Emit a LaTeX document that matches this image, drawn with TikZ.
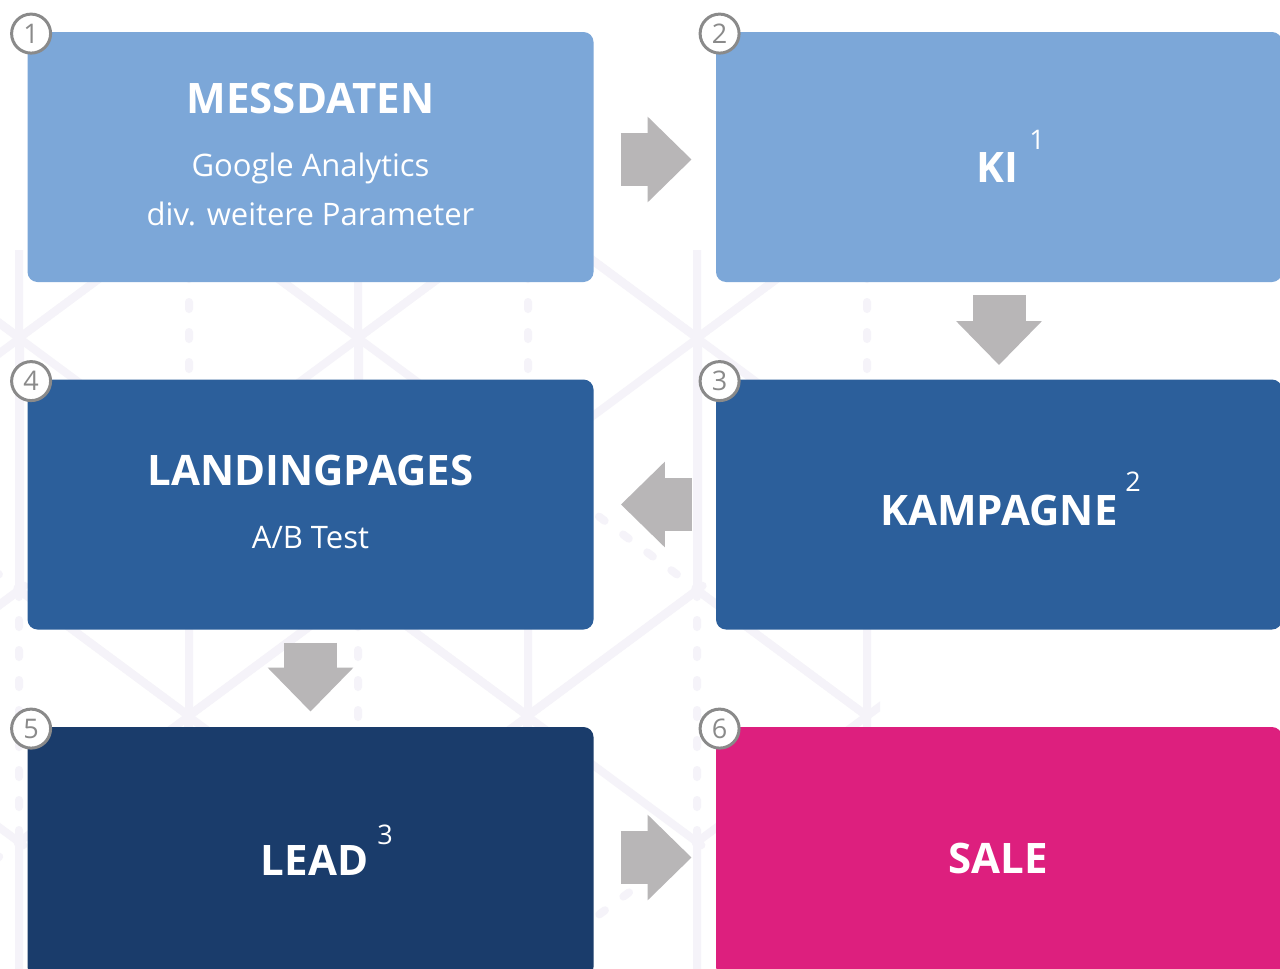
\documentclass[tikz,border=0pt]{standalone}
\usepackage{fontspec}
\setmainfont{Open Sans}
\usetikzlibrary{arrows.meta,positioning}

\definecolor{lightblue}{HTML}{7CA7D8}
\definecolor{midblue}{HTML}{2C5F9B}
\definecolor{darkblue}{HTML}{1A3C6B}
\definecolor{salepink}{HTML}{DD1F7E}
\definecolor{arrowgray}{HTML}{B8B6B7}
\definecolor{ringgray}{HTML}{8A8A8A}
\definecolor{gridline}{HTML}{F5F3F9}

\begin{document}
\begin{tikzpicture}[x=0.5pt,y=-0.5pt,
    stepbox/.style ={rectangle, rounded corners=5pt, inner sep=0pt, minimum width=283pt, minimum height=125pt},
    stepnum/.style ={circle, draw=ringgray, line width=1.5pt, fill=white, inner sep=0pt, minimum size=19.5pt,
                     text=ringgray, font=\fontsize{13.5}{13.5}\selectfont},
    title/.style ={anchor=base, text=white, inner sep=0pt, font=\fontsize{21}{25}\selectfont\bfseries},
    subtitle/.style ={anchor=base, text=white, inner sep=0pt, font=\fontsize{15.5}{18}\selectfont},
    supnum/.style ={anchor=base, text=white, inner sep=0pt, font=\fontsize{13.5}{16}\selectfont},
    flow/.style ={arrowgray, line width=26.5pt, -{Triangle[length=22pt,width=41.5pt]}},
    isocube/.pic ={
      \draw (0,-252) -- (170,-126) -- (170,126) -- (0,252) -- (-170,126) -- (-170,-126) -- cycle;
      \draw (-170,-126) -- (0,0) -- (170,-126) (0,0) -- (0,252);
      \draw[line cap=round, dash pattern=on 3.5pt off 11.5pt] (0,-252) -- (0,0) (-170,126) -- (0,0) -- (170,126);
    }]
  \useasboundingbox[fill=white] (0,0) rectangle (1280,969);

  % background
  \begin{scope}[gridline, line width=4pt, line join=round]
    \clip (0,250) rectangle (880,969);
    \foreach \cx/\cy in {-150/464, 189/464, 528/464, 867/464,
                         19/86, 358/86, 697/86,
                         19/842, 358/842, 697/842}
      \pic at (\cx,\cy) {isocube};
  \end{scope}

  % boxes
  \node[stepbox, fill=lightblue] (messdaten) at (310.5,157) {};
  \node[stepbox, fill=lightblue] (ki) at (999,157) {};
  \node[stepbox, fill=midblue] (kampagne) at (999,504.5) {};
  \node[stepbox, fill=midblue] (landing) at (310.5,504.5) {};
  \node[stepbox, fill=darkblue] (lead) at (310.5,852) {};
  \node[stepbox, fill=salepink] (sale) at (999,852) {};

  % numbers
  \node[stepnum] (n1) at ([xshift=2pt,yshift=-1pt]messdaten.north west) {1};
  \node[stepnum] (n2) at ([xshift=2pt,yshift=-1pt]ki.north west) {2};
  \node[stepnum] (n3) at ([xshift=2pt,yshift=-1pt]kampagne.north west) {3};
  \node[stepnum] (n4) at ([xshift=2pt,yshift=-1pt]landing.north west) {4};
  \node[stepnum] (n5) at ([xshift=2pt,yshift=-1pt]lead.north west) {5};
  \node[stepnum] (n6) at ([xshift=2pt,yshift=-1pt]sale.north west) {6};

  % texts
  \node[title] (messdatentitle) at (310.5,113) {MESSDATEN};
  \node[subtitle] (google) at (310.5,176) {Google Analytics};
  \node[subtitle] (weitere) at (310.5,225) {div. weitere Parameter};
  \node[title] (kititle) at (997,182) {KI};
  \node[supnum] (sup1) at (1037,149) {1};
  \node[title] (kampagnetitle) at (999,525) {KAMPAGNE};
  \node[supnum] (sup2) at (1133,491) {2};
  \node[title] (landingtitle) at (310.5,485) {LANDINGPAGES};
  \node[subtitle] (abtest) at (310.5,548) {A/B Test};
  \node[title] (leadtitle) at (314.5,875) {LEAD};
  \node[supnum] (sup3) at (385,844) {3};
  \node[title] (saletitle) at (998,873) {SALE};

  % arrows
  \draw[flow, shorten <=13.5pt, shorten >=12pt] ([yshift=-1.25pt]messdaten.east) -- ([yshift=-1.25pt]ki.west);
  \draw[flow, shorten <=6.5pt, shorten >=7pt] (ki) -- (kampagne);
  \draw[flow, shorten <=12pt, shorten >=13.5pt] (kampagne) -- (landing);
  \draw[flow, shorten <=6.5pt, shorten >=7.5pt] (landing) -- (lead);
  \draw[flow, shorten <=13.5pt, shorten >=12pt] ([yshift=-2.75pt]lead.east) -- ([yshift=-2.75pt]sale.west);
\end{tikzpicture}
\end{document}
